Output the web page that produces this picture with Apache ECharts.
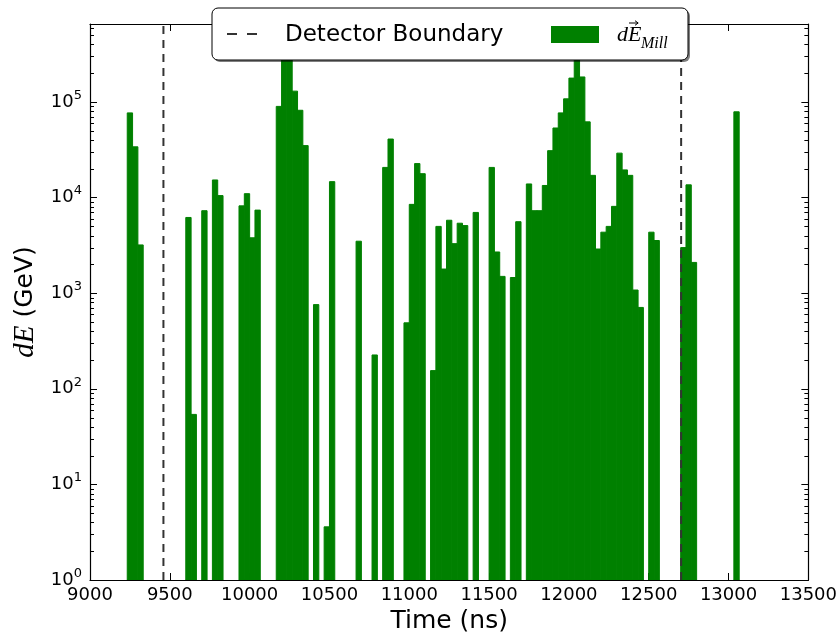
<!DOCTYPE html>
<html>
<head>
<meta charset="utf-8">
<script src="https://cdn.jsdelivr.net/npm/echarts/dist/echarts.min.js"></script>
<style>
  html, body { margin: 0; padding: 0; background: #fff; overflow: hidden; }
  #chart { width: 840px; height: 640px; }
</style>
</head>
<body>
<div id="chart"></div>
<script>
// Energy deposited per time bin (histogram, bins of 100/3 ns)
const binWidth = 100 / 3;

// left edge of every non-empty bin (ns)
const binStart = [
  9233.3, 9266.7, 9300.0,
  9600.0, 9633.3, 9700.0, 9766.7, 9800.0,
  9933.3, 9966.7, 10000.0, 10033.3,
  10166.7, 10200.0, 10233.3, 10266.7, 10300.0, 10333.3,
  10400.0, 10466.7, 10500.0, 10666.7, 10766.7,
  10833.3, 10866.7, 10966.7, 11000.0, 11033.3, 11066.7,
  11133.3, 11166.7, 11200.0, 11233.3, 11266.7, 11300.0, 11333.3,
  11400.0, 11500.0, 11533.3, 11566.7, 11633.3, 11666.7,
  11733.3, 11766.7, 11800.0, 11833.3, 11866.7, 11900.0, 11933.3, 11966.7,
  12000.0, 12033.3, 12066.7, 12100.0, 12133.3, 12166.7, 12200.0, 12233.3,
  12266.7, 12300.0, 12333.3, 12366.7, 12400.0, 12433.3,
  12500.0, 12533.3,
  12700.0, 12733.3, 12766.7,
  13033.3
];

// deposited energy in each of those bins (GeV)
const dE = [
  77000, 34000, 3200,
  6200, 54, 7300, 15300, 10500,
  8200, 11000, 3800, 7400,
  90000, 350000, 300000, 130000, 82000, 35000,
  760, 3.6, 14700, 3500, 226,
  20700, 41000, 490, 8500, 22700, 17800,
  155, 5000, 1790, 5800, 3300, 5400, 5100,
  7000, 20700, 2700, 1500, 1460, 5600,
  13900, 7300, 7300, 13400, 31000, 53500, 77000, 108000,
  178000, 420000, 183000, 62000, 17100, 2900, 4350, 5000,
  8100, 29200, 19500, 17100, 1080, 710,
  4350, 3560,
  3000, 13600, 2100,
  79000
];

// detector boundary times (ns)
const boundaries = [9460, 12703];

// axis ranges and tick spacing
const xMin = 9000, xMax = 13500, xStep = 500;
const yMin = 1, yMax = 655000;
const yDecades = [0, 1, 2, 3, 4, 5];

const GREEN = '#008000';
const FONT = 'DejaVu Sans';
const MATH = 'Liberation Serif';

// log-axis minor ticks at 2..9 x 10^k
const minorTicks = [];
yDecades.forEach(function (k) {
  for (let m = 2; m <= 9; m++) {
    const v = m * Math.pow(10, k);
    if (v < yMax) minorTicks.push([xMin, v]);
  }
});

const histData = binStart.map(function (t, i) { return [t, t + binWidth, dE[i]]; });

const chart = echarts.init(document.getElementById('chart'), null, { renderer: 'canvas', width: 840, height: 640 });

function axisCommon(extra) {
  return Object.assign({
    axisLine: { show: true, onZero: false, lineStyle: { color: '#000', width: 1.2 } },
    axisTick: { show: true, inside: true, length: 7, lineStyle: { color: '#000', width: 1 } },
    splitLine: { show: false },
    minorTick: { show: false }
  }, extra);
}

const option = {
  animation: false,
  backgroundColor: '#fff',
  grid: { left: 90, top: 24, width: 719.5, height: 556, containLabel: false },
  xAxis: [
    axisCommon({
      type: 'value', position: 'bottom', min: xMin, max: xMax, interval: xStep,
      axisLabel: {
        show: true, fontSize: 18, fontFamily: FONT, color: '#000', margin: 6,
        formatter: function (v) { return String(v); }
      },
      name: 'Time (ns)', nameLocation: 'middle', nameGap: 27,
      nameTextStyle: { fontSize: 25, fontFamily: FONT, color: '#000' }
    }),
    axisCommon({
      type: 'value', position: 'top', min: xMin, max: xMax, interval: xStep,
      axisLabel: { show: false }
    })
  ],
  yAxis: [
    axisCommon({
      type: 'log', logBase: 10, position: 'left', min: yMin, max: yMax,
      axisLabel: {
        show: true, margin: 8, showMaxLabel: false,
        formatter: function (v) {
          const l = Math.log10(v);
          const e = Math.round(l);
          if (Math.abs(l - e) > 1e-6) return '';
          return '{b|10}{s|' + e + '}';
        },
        rich: {
          b: { fontSize: 18, fontFamily: FONT, color: '#000', lineHeight: 26 },
          s: { fontSize: 13, fontFamily: FONT, color: '#000', lineHeight: 13, verticalAlign: 'top' }
        }
      },
      name: '{i|dE}{n| (GeV)}', nameLocation: 'middle', nameGap: 42, nameRotate: 90,
      nameTextStyle: {
        rich: {
          i: { fontSize: 29, fontFamily: MATH, fontStyle: 'italic', color: '#000' },
          n: { fontSize: 25, fontFamily: FONT, color: '#000' }
        }
      }
    }),
    axisCommon({
      type: 'log', logBase: 10, position: 'right', min: yMin, max: yMax,
      axisLabel: { show: false }
    })
  ],
  series: [
    {
      name: 'dE_Mill',
      type: 'custom',
      xAxisIndex: 0, yAxisIndex: 0,
      clip: true,
      silent: true,
      z: 2,
      encode: { x: [0, 1], y: 2 },
      data: histData,
      renderItem: function (params, api) {
        const cs = params.coordSys;
        const p0 = api.coord([api.value(0), api.value(2)]);
        const p1 = api.coord([api.value(1), yMin]);
        const top = Math.max(p0[1], cs.y);
        return {
          type: 'rect',
          shape: { x: p0[0], y: top, width: p1[0] - p0[0], height: p1[1] - top },
          style: { fill: GREEN, stroke: GREEN, lineWidth: 1 }
        };
      }
    },
    {
      name: 'minor ticks',
      type: 'custom',
      xAxisIndex: 0, yAxisIndex: 0,
      silent: true,
      z: 5,
      encode: { x: 0, y: 1 },
      data: minorTicks,
      renderItem: function (params, api) {
        const cs = params.coordSys;
        const y = Math.round(api.coord([api.value(0), api.value(1)])[1]) + 0.5;
        const len = 4;
        return {
          type: 'group',
          children: [
            { type: 'line', shape: { x1: cs.x, y1: y, x2: cs.x + len, y2: y }, style: { stroke: '#000', lineWidth: 1 } },
            { type: 'line', shape: { x1: cs.x + cs.width - len, y1: y, x2: cs.x + cs.width, y2: y }, style: { stroke: '#000', lineWidth: 1 } }
          ]
        };
      }
    }
  ].concat(boundaries.map(function (t) {
    return {
      name: 'Detector Boundary',
      type: 'line',
      xAxisIndex: 0, yAxisIndex: 0,
      silent: true,
      symbol: 'none',
      z: 4,
      data: [[t, yMin], [t, yMax]],
      lineStyle: { color: '#333', width: 2, type: [8, 6] }
    };
  })),
  graphic: [
    {
      type: 'group', z: 100,
      children: [
        // shadow
        { type: 'rect', z: 100, shape: { x: 214, y: 10, width: 476, height: 52, r: 6 }, style: { fill: 'rgba(0,0,0,0.5)' } },
        // frame
        { type: 'rect', z: 101, shape: { x: 212, y: 8, width: 476, height: 52, r: 6 }, style: { fill: '#fff', stroke: '#000', lineWidth: 1 } },
        // dashed line entry
        { type: 'line', z: 102, shape: { x1: 227, y1: 34, x2: 257, y2: 34 }, style: { stroke: '#333', lineWidth: 2, lineDash: [10, 10] } },
        { type: 'text', z: 102, x: 285, y: 35, style: { text: 'Detector Boundary', font: '23px "DejaVu Sans"', fill: '#000', verticalAlign: 'middle', align: 'left' } },
        // histogram entry
        { type: 'rect', z: 102, shape: { x: 551, y: 26, width: 48, height: 17 }, style: { fill: GREEN } },
        { type: 'text', z: 102, x: 617, y: 35, style: { text: 'dE', font: 'italic 22px "Liberation Serif"', fill: '#000', verticalAlign: 'middle', align: 'left' } },
        { type: 'text', z: 102, x: 641, y: 44, style: { text: 'Mill', font: 'italic 16px "Liberation Serif"', fill: '#000', verticalAlign: 'middle', align: 'left' } },
        { type: 'line', z: 102, shape: { x1: 629, y1: 23, x2: 638, y2: 23 }, style: { stroke: '#000', lineWidth: 1 } },
        { type: 'polyline', z: 102, shape: { points: [[635, 20.7], [638.2, 23], [635, 25.3]] }, style: { stroke: '#000', lineWidth: 1, fill: null } }
      ]
    }
  ]
};

chart.setOption(option);
</script>
</body>
</html>
